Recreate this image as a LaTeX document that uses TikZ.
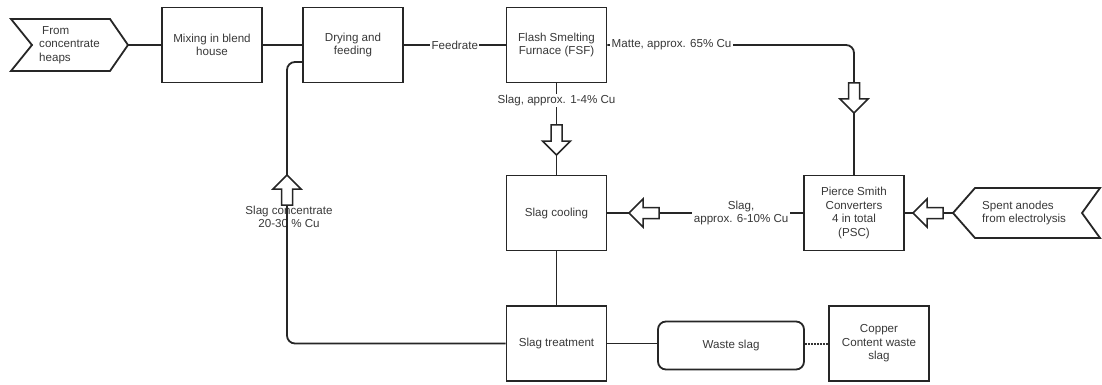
\documentclass[tikz,border=0pt]{standalone}
\usepackage{fontspec}
\setmainfont{Liberation Sans}
\begin{document}
\begin{tikzpicture}[x=1pt,y=-1pt,
  every node/.style={font=\fontsize{11.6}{13.4}\selectfont, text=black!78},
  ln/.style={line width=1.8pt, draw=black!85},
  box/.style={ln, rectangle, minimum width=100pt, minimum height=75pt,
              align=center, inner sep=1pt},
  lbl/.style={fill=white, inner sep=1.5pt, align=center},
  hollowarrow/.pic={
    \draw[line width=1.5pt, draw=black!85, fill=white, line join=miter]
      (0,-5.5) -- (16,-5.5) -- (16,-14) -- (30,0) -- (16,14) -- (16,5.5) -- (0,5.5) -- cycle;
    \coordinate (-tail) at (0,0);
    \coordinate (-tip) at (30,0);
  },
]
\useasboundingbox (0,0) rectangle (1102,385);

% source chevrons
\draw[ln, line join=miter] (11,19) -- (110,19) -- (128,45) -- (110,71) -- (11,71) -- (32,45) -- cycle;
\coordinate (heapsTip) at (128,45);
\node[anchor=west, align=left, inner sep=0pt] (heaps) at (39,45)
  {\hspace*{3pt}From\\concentrate\\heaps};

\draw[ln, line join=miter] (953,213) -- (975,188) -- (1100,188) -- (1082,213) -- (1100,238) -- (975,238) -- cycle;
\coordinate (anodesTip) at (953,213);
\node[anchor=west, align=left, inner sep=0pt] (anodes) at (982,213)
  {Spent anodes\\from electrolysis};

% process boxes
\node[box] (mix)  at (212,45)    {Mixing in blend\\house};
\node[box] (dry)  at (353,45)    {Drying and\\feeding};
\node[box] (fsf)  at (556.5,45)  {Flash Smelting\\Furnace (FSF)};
\node[box] (psc)  at (854,213)   {Pierce Smith\\Converters\\4 in total\\(PSC)};
\node[box] (cool) at (556.5,213) {Slag cooling};
\node[box] (treat) at (556.5,343.5) {Slag treatment};
\node[ln, rectangle, rounded corners=8pt, minimum width=146pt, minimum height=48pt]
  (waste) at (731,345.5) {Waste slag};
\node[box] (copper) at (879,343.5) {Copper\\Content waste\\slag};

% hollow flow arrows
\pic[rotate=-90] (aFsf) at (556.5,125) {hollowarrow};
\pic[rotate=-90] (aMatte) at (854,83) {hollowarrow};
\pic[rotate=180] (aAnodes) at (943,213) {hollowarrow};
\pic[rotate=180] (aCool) at (659,213) {hollowarrow};
\pic[rotate=90] (aConc) at (287,205) {hollowarrow};

% connectors
\draw[ln] (heapsTip) -- (mix.west);
\draw[ln] (mix) -- (dry);
\draw[ln] (dry) -- node[lbl] (feedrate) {Feedrate} (fsf);
\draw[ln, rounded corners=8pt] (fsf.east) -| (aMatte-tail);
\node[lbl, anchor=west] (matte) at (610,45) {Matte, approx. 65\% Cu};
\draw[ln] (aMatte-tip) -- (psc.north);
\draw[ln] (fsf.south) -- node[lbl, pos=0.41] (slagA) {Slag, approx. 1-4\% Cu} (aFsf-tail);
\draw[ln] (aFsf-tip) -- (cool.north);
\draw[ln] (psc.west) -- node[lbl, pos=0.43] (slagB) {Slag,\\approx. 6-10\% Cu} (aCool-tail);
\draw[ln] (aCool-tip) -- (cool.east);
\draw[ln] (anodesTip) -- (aAnodes-tail);
\draw[ln] (aAnodes-tip) -- (psc.east);
\draw[ln] (cool.south) -- (treat.north);
\node[align=center, inner sep=0pt] (conc) at (289,217) {Slag concentrate\\20-30 \% Cu};
\draw[ln, rounded corners=8pt] (treat.west) -| (aConc-tail);
\draw[ln, rounded corners=8pt] (aConc-tip) |- ([yshift=-17pt]dry.west);
\draw[ln] (treat.east) -- (treat.east -| waste.west);
\draw[line width=2pt, draw=black!80, dash pattern=on 1.6pt off 1.4pt]
  (waste.east |- treat.east) -- (copper.west);
\end{tikzpicture}
\end{document}
